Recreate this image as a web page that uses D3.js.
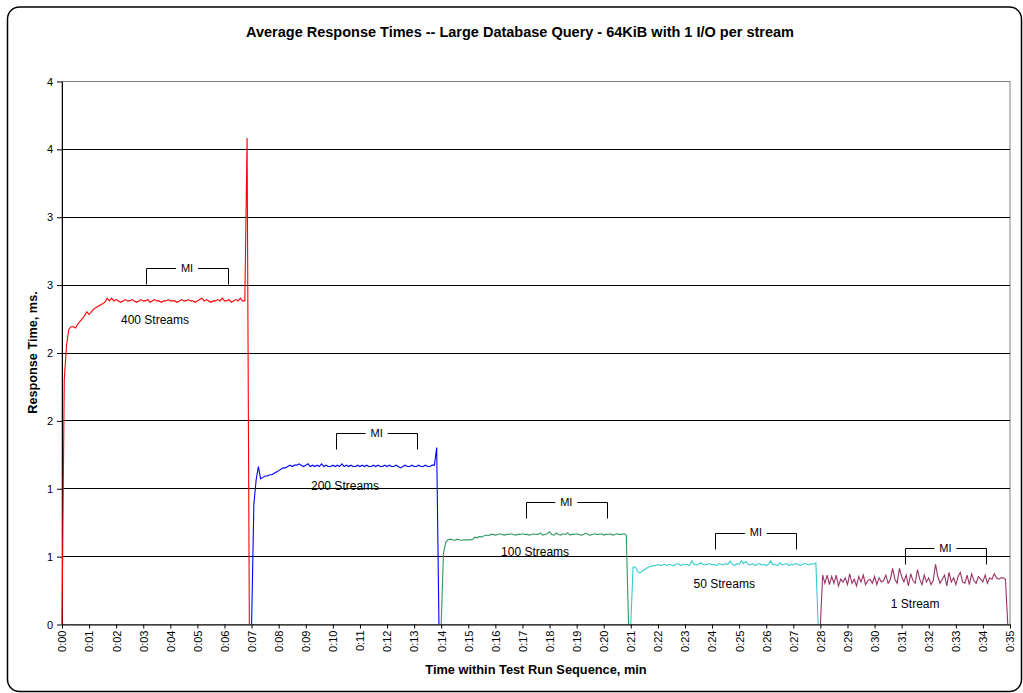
<!DOCTYPE html>
<html>
<head>
<meta charset="utf-8">
<script src="https://cdnjs.cloudflare.com/ajax/libs/d3/7.8.5/d3.min.js"></script>
<style>
    body { margin: 0; background: #fff; }
    text { font-family: Arial, "Liberation Sans", sans-serif; }
</style>
</head>
<body>
<div id="chart"></div>
<script>
// ---- data ----
var streamNames = ["400 Streams", "200 Streams", "100 Streams", "50 Streams", "1 Stream"];
var streamColors = ["#ff0000", "#0000ff", "#339966", "#33cccc", "#993366"];
var streamStart = [0, 420, 840, 1260, 1680];   // seconds into run
var sampleStep = 5;                             // seconds between samples

var rt400 = [0, 1.80, 2.05, 2.17, 2.19, 2.19, 2.18, 2.21, 2.23, 2.25, 2.27, 2.30, 2.28, 2.30, 2.32, 2.33,
    2.34, 2.35, 2.36, 2.37, 2.40, 2.38, 2.40,
    2.38, 2.39, 2.38, 2.37, 2.38, 2.39, 2.38, 2.38, 2.39, 2.38,
    2.37, 2.38, 2.39, 2.38, 2.38, 2.39, 2.37, 2.38, 2.39, 2.38,
    2.38, 2.37, 2.38, 2.38, 2.39, 2.38, 2.38, 2.38, 2.37, 2.38,
    2.39, 2.38, 2.38, 2.39, 2.38, 2.38, 2.37, 2.38, 2.39, 2.40,
    2.38, 2.39, 2.38, 2.37, 2.38, 2.38, 2.39, 2.38, 2.40, 2.38,
    2.38, 2.39, 2.37, 2.38, 2.39, 2.38, 2.40, 2.38,
    2.38, 3.58, 0];

var rt200 = [0, 0.88, 1.06, 1.16, 1.07, 1.08, 1.09, 1.09, 1.10, 1.10, 1.11, 1.12, 1.13, 1.14, 1.15, 1.15,
    1.16, 1.17, 1.16, 1.17, 1.17, 1.18,
    1.17, 1.16, 1.17, 1.18, 1.16, 1.17, 1.16, 1.17, 1.16, 1.18,
    1.16, 1.17, 1.16, 1.16, 1.17, 1.16, 1.17, 1.16, 1.18, 1.16,
    1.17, 1.16, 1.17, 1.16, 1.16, 1.17, 1.16, 1.17, 1.16, 1.17,
    1.16, 1.16, 1.17, 1.16, 1.17, 1.16, 1.16, 1.17, 1.16, 1.17,
    1.16, 1.16, 1.17, 1.16, 1.15, 1.16, 1.17, 1.16, 1.16, 1.17,
    1.16, 1.16, 1.17, 1.16, 1.16, 1.17, 1.16, 1.16, 1.17, 1.17,
    1.30, 0];

var rt100 = [0, 0.52, 0.60, 0.62, 0.625, 0.62, 0.615, 0.625, 0.62, 0.615, 0.62, 0.62, 0.62, 0.62, 0.625,
    0.64, 0.635, 0.645, 0.64, 0.65, 0.655, 0.65, 0.66,
    0.66, 0.655, 0.66, 0.665, 0.66, 0.655, 0.66, 0.66, 0.665, 0.66,
    0.655, 0.66, 0.66, 0.665, 0.66, 0.66, 0.655, 0.66, 0.665, 0.66,
    0.66, 0.67, 0.655, 0.66, 0.665, 0.68, 0.66, 0.655, 0.67, 0.66,
    0.655, 0.665, 0.66, 0.67, 0.655, 0.66, 0.66, 0.665, 0.66, 0.655,
    0.66, 0.67, 0.66, 0.655, 0.66, 0.665, 0.66, 0.66, 0.665, 0.655,
    0.66, 0.66, 0.665, 0.655, 0.66, 0.665, 0.66, 0.66, 0.665,
    0.655, 0];

var rt50 = [0, 0.42, 0.42, 0.39, 0.375, 0.39, 0.40, 0.41, 0.42, 0.425, 0.43,
    0.43, 0.44, 0.43, 0.435, 0.44, 0.43, 0.44, 0.435, 0.43, 0.44,
    0.445, 0.43, 0.44, 0.435, 0.44, 0.43, 0.465, 0.44, 0.435, 0.44,
    0.45, 0.44, 0.435, 0.44, 0.445, 0.435, 0.44, 0.43, 0.445, 0.44,
    0.435, 0.445, 0.44, 0.465, 0.44, 0.43, 0.445, 0.44, 0.465, 0.445,
    0.46, 0.44, 0.435, 0.445, 0.43, 0.44, 0.445, 0.435, 0.44, 0.43,
    0.44, 0.465, 0.435, 0.44, 0.43, 0.45, 0.435, 0.44, 0.445, 0.43,
    0.44, 0.435, 0.445, 0.44, 0.43, 0.44, 0.445, 0.44, 0.435, 0.445,
    0.44,
    0.45, 0];

var rt1 = [0, 0.36,
    0.30, 0.36, 0.29, 0.35, 0.30, 0.36, 0.28, 0.33, 0.31, 0.34,
    0.29, 0.37, 0.30, 0.33, 0.28, 0.35, 0.31, 0.36, 0.29, 0.32,
    0.33, 0.30, 0.35, 0.29, 0.34, 0.31, 0.32, 0.36, 0.30, 0.33,
    0.41, 0.33, 0.30, 0.41, 0.35, 0.31, 0.36, 0.28, 0.37, 0.32,
    0.30, 0.40, 0.33, 0.29, 0.36, 0.31, 0.34, 0.29, 0.32, 0.44,
    0.35, 0.30, 0.33, 0.36, 0.28, 0.38, 0.31, 0.34, 0.29, 0.35,
    0.38, 0.31, 0.30, 0.36, 0.29, 0.37, 0.32, 0.30, 0.35, 0.33,
    0.31, 0.36, 0.30, 0.34, 0.33, 0.37, 0.34, 0.33, 0.34, 0.34,
    0.33, 0];

var streamValues = [rt400, rt200, rt100, rt50, rt1];

var yTicks = [0, 0.5, 1, 1.5, 2, 2.5, 3, 3.5, 4];
var xTickMinutes = d3.range(0, 36);

// measurement interval (MI) bracket per stream: offset from stream start (s) and bracket top (ms)
var miFrom = 187, miTo = 367;
var miLevel = [2.625, 1.405, 0.90, 0.673, 0.558];

// stream label anchors (seconds, ms)
var labelTime = [206, 627, 1048, 1467, 1890];
var labelValue = [2.24, 1.02, 0.53, 0.295, 0.147];

// ---- layout ----
var W = 1023, H = 693;
var plot = { left: 62, right: 1010, top: 81, bottom: 624 };

var svg = d3.select("#chart").append("svg")
    .attr("width", W)
    .attr("height", H);

// outer rounded frame
svg.append("rect")
    .attr("x", 7.5)
    .attr("y", 7)
    .attr("width", 1014)
    .attr("height", 684.5)
    .attr("rx", 12)
    .attr("fill", "#fff")
    .attr("stroke", "#000")
    .attr("stroke-width", 1.5);

var x = d3.scaleLinear().domain([0, 2100]).range([plot.left, plot.right]);
var y = d3.scaleLinear().domain([0, 4]).range([plot.bottom, plot.top]);

// plot area border
svg.append("rect")
    .attr("x", plot.left)
    .attr("y", plot.top + 0.5)
    .attr("width", plot.right - plot.left)
    .attr("height", plot.bottom - plot.top)
    .attr("fill", "none")
    .attr("stroke", "#808080");

// gridlines
svg.append("g").selectAll("line")
    .data(yTicks.filter(function (d) { return d > 0 && d < 4; }))
    .enter().append("line")
    .attr("x1", plot.left)
    .attr("x2", plot.right)
    .attr("y1", function (d) { return Math.round(y(d)) + 0.5; })
    .attr("y2", function (d) { return Math.round(y(d)) + 0.5; })
    .attr("stroke", "#000")
    .attr("stroke-width", 1);

// y axis
var yAxis = svg.append("g")
    .attr("transform", "translate(" + plot.left + ",0.5)")
    .call(d3.axisLeft(y)
        .tickValues(yTicks)
        .tickFormat(function (d) { return Math.round(d); })
        .tickSize(5)
        .tickSizeOuter(0)
        .tickPadding(4));
yAxis.selectAll("text")
    .style("font-size", "11px")
    .style("fill", "#000");

// x axis
var xAxis = svg.append("g")
    .attr("transform", "translate(0," + (plot.bottom + 0.5) + ")")
    .call(d3.axisBottom(x)
        .tickValues(xTickMinutes.map(function (m) { return m * 60; }))
        .tickFormat(function (d) {
            var m = d / 60;
            return "0:" + (m < 10 ? "0" + m : m);
        })
        .tickSize(4)
        .tickSizeOuter(0));
xAxis.selectAll("text")
    .attr("transform", "rotate(-90)")
    .attr("text-anchor", "end")
    .attr("x", -6)
    .attr("y", 0)
    .attr("dy", "0.35em")
    .style("font-size", "11px")
    .style("fill", "#000");
xAxis.select(".domain").attr("stroke", "#000");

// series lines
var line = d3.line()
    .x(function (d) { return x(d.t); })
    .y(function (d) { return y(d.v); });

var series = streamNames.map(function (name, i) {
    return {
        name: name,
        color: streamColors[i],
        values: streamValues[i].map(function (v, j) {
            return { t: streamStart[i] + j * sampleStep, v: v };
        })
    };
});

svg.append("g").selectAll("path")
    .data(series)
    .enter().append("path")
    .attr("d", function (d) { return line(d.values); })
    .attr("fill", "none")
    .attr("stroke", function (d) { return d.color; })
    .attr("stroke-width", 1.1);

// stream labels
svg.append("g").selectAll("text")
    .data(series)
    .enter().append("text")
    .attr("x", function (d, i) { return x(labelTime[i]); })
    .attr("y", function (d, i) { return y(labelValue[i]); })
    .attr("dy", "0.35em")
    .attr("text-anchor", "middle")
    .style("font-size", "12px")
    .text(function (d) { return d.name; });

// MI brackets
var mi = svg.append("g").selectAll("g")
    .data(series)
    .enter().append("g");

mi.append("path")
    .attr("d", function (d, i) {
        var x1 = Math.round(x(streamStart[i] + miFrom)) + 0.5,
            x2 = Math.round(x(streamStart[i] + miTo)) + 0.5,
            yt = Math.round(y(miLevel[i])) + 0.5;
        return "M" + x1 + "," + (yt + 16) + "V" + yt + "H" + x2 + "V" + (yt + 16);
    })
    .attr("fill", "none")
    .attr("stroke", "#000");

mi.append("rect")
    .attr("x", function (d, i) { return x(streamStart[i] + (miFrom + miTo) / 2) - 11; })
    .attr("y", function (d, i) { return y(miLevel[i]) - 6; })
    .attr("width", 22)
    .attr("height", 12)
    .attr("fill", "#fff");

mi.append("text")
    .attr("x", function (d, i) { return x(streamStart[i] + (miFrom + miTo) / 2); })
    .attr("y", function (d, i) { return y(miLevel[i]); })
    .attr("dy", "0.35em")
    .attr("text-anchor", "middle")
    .style("font-size", "11px")
    .text("MI");

// titles
svg.append("text")
    .attr("x", 520)
    .attr("y", 32)
    .attr("dy", "0.35em")
    .attr("text-anchor", "middle")
    .style("font-size", "14.5px")
    .style("font-weight", "bold")
    .text("Average Response Times -- Large Database Query - 64KiB with 1 I/O per stream");

svg.append("text")
    .attr("transform", "translate(33," + ((plot.top + plot.bottom) / 2) + ") rotate(-90)")
    .attr("dy", "0.35em")
    .attr("text-anchor", "middle")
    .style("font-size", "12.7px")
    .style("font-weight", "bold")
    .text("Response Time, ms.");

svg.append("text")
    .attr("x", (plot.left + plot.right) / 2)
    .attr("y", 670)
    .attr("dy", "0.35em")
    .attr("text-anchor", "middle")
    .style("font-size", "12.8px")
    .style("font-weight", "bold")
    .text("Time within Test Run Sequence, min");
</script>
</body>
</html>
